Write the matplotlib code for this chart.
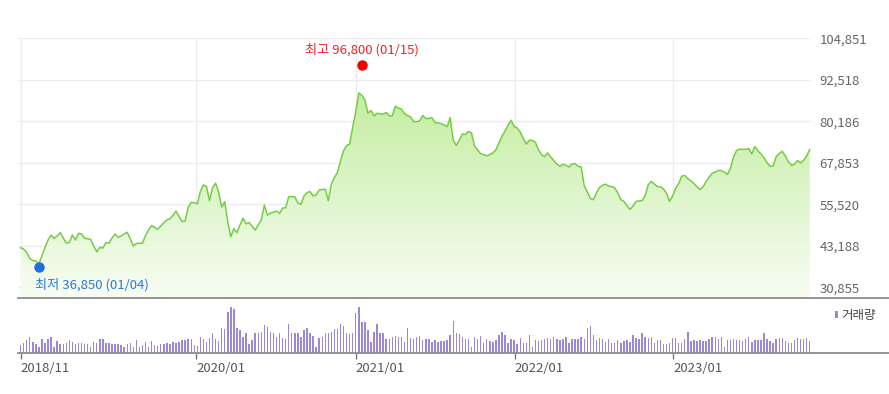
"""Weekly price area chart with volume bars underneath (Naver-style)."""
import numpy as np
import pandas as pd
import matplotlib
matplotlib.use("Agg")
import matplotlib.pyplot as plt
import matplotlib.dates as mdates
from matplotlib.colors import LinearSegmentedColormap
from matplotlib.lines import Line2D
from matplotlib.patches import Polygon, Rectangle

plt.rcParams["font.family"] = ["Noto Sans CJK KR", "DejaVu Sans"]

# -------------------------------------------------------
# Data (weekly).
# -------------------------------------------------------
start_date = "2018-11-23"

close = [
    42600, 42200, 41200, 39400, 38800, 38700, 37800, 40200, 42700, 44900,
    46400, 45400, 46100, 47100, 45500, 44000, 44200, 46400, 44900, 46900,
    46700, 45400, 45300, 45100, 43100, 41400, 42700, 42500, 44100, 44000,
    45500, 46700, 45700, 46100, 46700, 47200, 45200, 43100, 43900, 43900,
    44000, 46200, 47900, 49200, 48600, 48100, 49100, 50000, 50900, 51200,
    52200, 53500, 51900, 50400, 50600, 54700, 56100, 56000, 55600, 59300,
    61300, 60800, 56600, 60400, 61800, 59200, 54700, 56300, 50300, 45900,
    48300, 47100, 49400, 51400, 49700, 50100, 48900, 47900, 49400, 50900,
    55300, 52300, 52900, 53200, 53500, 52800, 54400, 54500, 57800, 57800,
    57700, 55900, 55500, 57900, 59000, 59300, 58000, 58300, 59800, 59900,
    60000, 56600, 61600, 63500, 65000, 68400, 71400, 73000, 73400, 78500,
    82900, 88600, 87900, 86500, 82600, 83400, 81800, 82600, 82400, 82300,
    82800, 81900, 81800, 84700, 84100, 83800, 82500, 81900, 81500, 80100,
    80100, 80300, 81900, 81000, 81000, 81300, 79800, 79700, 79500, 79100,
    78600, 81300, 74600, 73000, 74600, 76400, 76300, 77200, 76700, 72800,
    71700, 70500, 70300, 69900, 70300, 70800, 71700, 73700, 75800, 77300,
    79100, 80500, 78600, 78200, 77000, 75100, 73400, 74600, 74500, 73900,
    71700, 70300, 69700, 70800, 69600, 68500, 67500, 66800, 67400, 67100,
    66600, 67500, 67600, 66800, 66600, 61000, 59200, 57200, 56900, 58900,
    60500, 61200, 61500, 60900, 60800, 60400, 58900, 56900, 56400, 55200,
    54000, 55000, 56400, 56500, 56600, 58100, 61300, 62300, 61500, 60800,
    60700, 60100, 58800, 56400, 57900, 60300, 61700, 63900, 64100, 63100,
    62500, 61700, 60700, 59900, 60700, 62300, 63600, 64700, 65100, 65600,
    65500, 65100, 64400, 66200, 69600, 71500, 71900, 71850, 71850, 72100,
    70500, 72700, 71400, 70500, 69400, 67900, 66800, 66900, 69700, 70600,
    71300, 69900, 68200, 67100, 67400, 68500, 67800, 68600, 69900, 71800,
]

# relative weekly volume
volume = [
    77, 100, 127, 160, 110, 87, 60, 133, 100, 133,
    160, 53, 120, 87, 87, 100, 127, 110, 87, 100,
    100, 87, 87, 60, 110, 100, 133, 133, 100, 100,
    87, 87, 87, 77, 60, 87, 100, 60, 127, 60,
    77, 110, 60, 120, 77, 67, 87, 87, 100, 87,
    110, 93, 110, 127, 127, 133, 133, 77, 67, 160,
    133, 110, 143, 193, 133, 120, 243, 233, 410, 453,
    437, 243, 227, 160, 200, 87, 127, 193, 193, 210,
    277, 253, 210, 193, 153, 200, 143, 133, 287, 193,
    193, 193, 153, 227, 243, 193, 167, 53, 143, 160,
    193, 193, 210, 233, 233, 287, 267, 200, 187, 193,
    400, 453, 310, 310, 227, 110, 210, 287, 193, 200,
    133, 133, 153, 167, 160, 160, 110, 243, 143, 133,
    160, 167, 127, 133, 133, 110, 127, 110,
    120, 120, 127, 177, 320, 200, 187, 160, 133, 133,
    60, 160, 133, 170, 100, 133, 120, 110, 127, 177,
    210, 177, 100, 133, 127, 87, 150, 100, 93, 173,
    60, 127, 120, 127, 133, 150, 133, 160, 133, 127,
    133, 160, 100, 133, 133, 133, 160, 133, 250, 267,
    177, 127, 150, 133, 110, 133, 93, 93, 127, 100,
    120, 127, 110, 177, 143, 133, 193, 160, 143, 160,
    93, 127, 127, 87, 87, 93, 150, 150, 100,
    100, 133, 210, 120, 127, 120, 127, 120, 120, 133,
    153, 160, 133, 160, 60, 127, 127, 133, 127, 127,
    120, 133, 160, 110, 127, 127, 127, 200, 133, 120,
    100, 133, 150, 150, 120, 100, 100, 127, 143,
    133, 133, 150, 120,
]

y_ticks = [30855, 43188, 55520, 67853, 80186, 92518, 104851]
x_tick_dates = ["2018-11-23", "2020-01-01", "2021-01-01", "2022-01-01", "2023-01-01"]
x_tick_labels = ["2018/11", "2020/01", "2021/01", "2022/01", "2023/01"]

low_date, low_value, low_label = "2019-01-04", 36850, "최저 36,850 (01/04)"
high_date, high_value, high_label = "2021-01-15", 96800, "최고 96,800 (01/15)"

dates = pd.date_range(start_date, periods=len(close), freq="W-FRI")
xs = mdates.date2num(dates.to_pydatetime())

# -------------------------------------------------------
# Layout (pixel boxes, top-left origin).
# -------------------------------------------------------
W, H = 889, 394
fig = plt.figure(figsize=(W / 100, H / 100), dpi=100)


def box(x0, y0, x1, y1):
    return [x0 / W, 1 - y1 / H, (x1 - x0) / W, (y1 - y0) / H]


ax = fig.add_axes(box(18, 37.8, 811, 298.3))
axv = fig.add_axes(box(18, 298.3, 811, 352.7))

x_lo, x_hi = xs[0] - 6, xs[-1] + 3
y_lo, y_hi = 27586, 105000

# -------------------------------------------------------
# Price panel.
# -------------------------------------------------------
verts = [(xs[0], y_lo)] + list(zip(xs, close)) + [(xs[-1], y_lo)]
poly = Polygon(verts, closed=True, facecolor="none", edgecolor="none")
ax.add_patch(poly)
cmap = LinearSegmentedColormap.from_list("fade", ["#f8fdf4", "#b6e98a"])
grad = np.linspace(0, 1, 256).reshape(-1, 1)
im = ax.imshow(grad, cmap=cmap, aspect="auto", origin="lower",
               extent=[x_lo, x_hi, y_lo, y_hi], zorder=1)
im.set_clip_path(poly)

ax.plot(xs, close, color="#76cd43", linewidth=1.1, zorder=3)

ax.set_xlim(x_lo, x_hi)
ax.set_ylim(y_lo, y_hi)
tick_x = mdates.date2num(pd.to_datetime(x_tick_dates).to_pydatetime())
ax.set_xticks(tick_x)
ax.set_yticks(y_ticks)
ax.set_yticklabels([f"{v:,}" for v in y_ticks])
ax.yaxis.tick_right()
ax.tick_params(axis="x", length=0, labelbottom=False)
ax.tick_params(axis="y", length=0, pad=6, labelsize=9.5, labelcolor="#666666")
ax.grid(True, color="#ececec", linewidth=0.9)
ax.set_axisbelow(True)
for s in ax.spines.values():
    s.set_visible(False)

# high / low markers
lx = mdates.date2num(pd.Timestamp(low_date).to_pydatetime())
hx = mdates.date2num(pd.Timestamp(high_date).to_pydatetime())
ax.plot(lx, low_value, "o", ms=6.5, color="#1f6ee0", zorder=5, clip_on=False)
ax.plot(hx, high_value, "o", ms=6.5, color="#f00000", zorder=5, clip_on=False)
ax.annotate(low_label, (lx, low_value), xytext=(-2.5, -12.5),
            textcoords="offset points", ha="left", va="center",
            color="#2d77d6", fontsize=9.5)
ax.annotate(high_label, (hx, high_value), xytext=(0, 11.5),
            textcoords="offset points", ha="center", va="center",
            color="#e8262b", fontsize=9.5)

# -------------------------------------------------------
# Volume panel.
# -------------------------------------------------------
axv.bar(xs, volume, width=3.3, color="#9c87d6", linewidth=0)
axv.set_xlim(x_lo, x_hi)
axv.set_ylim(0, 544)
axv.set_yticks([])
axv.set_xticks(tick_x)
axv.set_xticklabels(x_tick_labels)
for lbl in axv.get_xticklabels():
    lbl.set_ha("left")
axv.tick_params(axis="x", length=4, width=1, color="#777777", pad=3,
                labelsize=9.5, labelcolor="#555555")
for s in axv.spines.values():
    s.set_visible(False)

# separator lines running to the right edge
for yy in (298.3, 352.7):
    fig.add_artist(Line2D([18 / W, 1], [1 - yy / H] * 2,
                          color="#8c8c8c", linewidth=1.3))

# legend
fig.add_artist(Rectangle((834.5 / W, 1 - 318 / H), 3 / W, 7 / H,
                         facecolor="#9c87d6", edgecolor="none"))
fig.text(841 / W, 1 - 315 / H, "거래량", ha="left", va="center",
         fontsize=9, color="#444444")

fig.savefig("out.png", dpi=100)
